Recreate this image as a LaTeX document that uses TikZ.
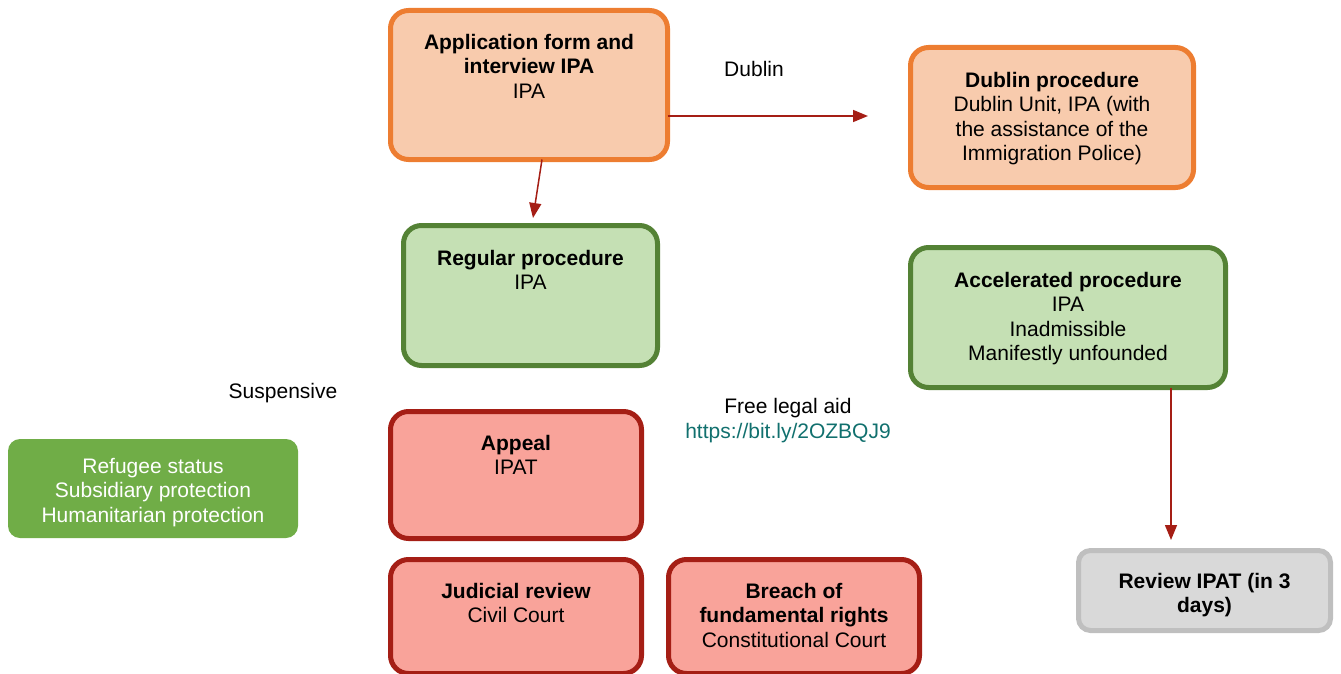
\documentclass[tikz,border=0pt]{standalone}
\usepackage{fontspec}
\setmainfont{Liberation Sans}
\usetikzlibrary{arrows.meta}
\definecolor{oborder}{HTML}{ED7D31}
\definecolor{ofill}{HTML}{F8CBAD}
\definecolor{gborder}{HTML}{548235}
\definecolor{gfill}{HTML}{C5E0B4}
\definecolor{rborder}{HTML}{A51E15}
\definecolor{rfill}{HTML}{F9A39A}
\definecolor{grborder}{HTML}{BFBFBF}
\definecolor{grfill}{HTML}{D9D9D9}
\definecolor{refill}{HTML}{70AD47}
\definecolor{arrowred}{HTML}{A51E15}
\definecolor{linkteal}{HTML}{11706E}
\newcommand\bb[4]{\parbox[t][#2pt][t]{#1pt}{\centering\rule{0pt}{#3pt}#4}}
\tikzset{
  basebox/.style={inner sep=0pt, outer sep=0pt, anchor=north west, line width=5pt, rounded corners=18pt},
  obox/.style={basebox, draw=oborder, fill=ofill},
  gbox/.style={basebox, draw=gborder, fill=gfill},
  rbox/.style={basebox, draw=rborder, fill=rfill},
  graybox/.style={basebox, draw=grborder, fill=grfill, rounded corners=12pt},
  resbox/.style={inner sep=0pt, outer sep=0pt, anchor=north west, fill=refill, rounded corners=12pt, text=white},
  arr/.style={draw=arrowred, line width=1.5pt, -{Triangle[length=15pt,width=12pt]}},
  lbl/.style={inner sep=0pt, anchor=base},
}
\begin{document}
\begin{tikzpicture}[x=1pt, y=-1pt, every node/.style={font=\fontsize{21}{24.4}\selectfont}]
\useasboundingbox (0,0) rectangle (1341,674);
% boxes
\node[obox] (app) at (390.5,10.5) {\bb{277}{149}{39}{\textbf{Application form and}\\\textbf{interview IPA}\\IPA}};
\node[obox] (dub) at (910.5,47.5) {\bb{283}{140}{40}{\textbf{Dublin procedure}\\Dublin Unit, IPA (with\\the assistance of the\\Immigration Police)}};
\node[gbox] (reg) at (403.5,225.5) {\bb{254}{140}{40}{\textbf{Regular procedure}\\IPA}};
\node[gbox] (acc) at (910.5,247.5) {\bb{315}{140}{40}{\textbf{Accelerated procedure}\\IPA\\Inadmissible\\Manifestly unfounded}};
\node[rbox] (app2) at (390.5,411.5) {\bb{251}{127}{39}{\textbf{Appeal}\\IPAT}};
\node[rbox] (jud) at (390.5,559.5) {\bb{251}{114}{39}{\textbf{Judicial review}\\Civil Court}};
\node[rbox] (bre) at (668.5,559.5) {\bb{251}{114}{39}{\textbf{Breach of}\\\textbf{fundamental rights}\\Constitutional Court}};
\node[graybox] (rev) at (1078.5,550.5) {\bb{252}{80}{38}{\textbf{Review IPAT (in 3}\\\textbf{days)}}};
\node[resbox] (ref) at (8,439) {\bb{290}{99}{34.5}{Refugee status\\Subsidiary protection\\Humanitarian protection}};
% labels
\node[lbl] (ldub) at (754,76.5) {Dublin};
\node[lbl] (lsus) at (283,398.5) {Suspensive};
\node[lbl] (lfree) at (788,413.5) {Free legal aid};
\node[lbl, text=linkteal] (llink) at (788,438.5) {https://bit.ly/2OZBQJ9};
% connectors
\coordinate (tdub) at (868,116);
\coordinate (treg) at (533,218);
\coordinate (trev) at (1171,540);
\draw[arr] (app.east |- tdub) -- (tdub);
\draw[arr] ([xshift=13pt]app.south) -- (treg);
\draw[arr] (acc.south -| trev) -- (trev);
\end{tikzpicture}
\end{document}
